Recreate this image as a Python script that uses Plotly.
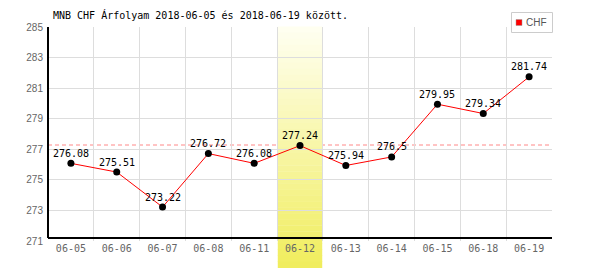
import plotly.graph_objects as go

dates = ["06-05", "06-06", "06-07", "06-08", "06-11", "06-12", "06-13", "06-14", "06-15", "06-18", "06-19"]
chf = [276.08, 275.51, 273.22, 276.72, 276.08, 277.24, 275.94, 276.5, 279.95, 279.34, 281.74]
labels = ["276.08", "275.51", "273.22", "276.72", "276.08", "277.24", "275.94", "276.5", "279.95", "279.34", "281.74"]
highlight_date = "06-12"
ref_value = 277.28
y_ticks = [271, 273, 275, 277, 279, 281, 283, 285]
title_text = "MNB CHF Árfolyam 2018-06-05 és 2018-06-19 között."
series_name = "CHF"

W, H = 600, 270
L, R, T, B = 48, 48, 27, 29
plot_h = H - T - B

fig = go.Figure()

fig.add_trace(go.Scatter(
    x=dates, y=chf, mode="lines+markers",
    line=dict(color="#ff0000", width=1),
    marker=dict(color="#000000", size=7),
    showlegend=False, cliponaxis=False,
))

shapes = []
# reference dashed line (under the highlight band)
shapes.append(dict(type="line", xref="paper", yref="y", x0=0, x1=1, y0=ref_value, y1=ref_value,
                   line=dict(color="#ff8888", width=1, dash="4px,3px"), layer="between"))

# highlight band gradient (vertical)
hi = dates.index(highlight_date)
band_top_px, band_bot_px = 27, 268
n = 40
c_top = (255, 255, 242)
c_bot = (240, 237, 92)
for i in range(n):
    y0px = band_top_px + (band_bot_px - band_top_px) * i / n
    y1px = band_top_px + (band_bot_px - band_top_px) * (i + 1) / n
    t = (i + 0.5) / n
    col = tuple(round(c_top[k] + (c_bot[k] - c_top[k]) * t) for k in range(3))
    shapes.append(dict(
        type="rect", xref="x", yref="paper",
        x0=hi - 0.5 + 0.015, x1=hi + 0.5 - 0.015,
        y0=(H - B - y1px) / plot_h, y1=(H - B - y0px) / plot_h + 0.002,
        fillcolor="rgb(%d,%d,%d)" % col, line=dict(width=0), layer="between",
    ))

# bottom black axis (drawn slightly above the 271 grid line)
shapes.append(dict(type="line", xref="paper", yref="paper", x0=0, x1=1, y0=3 / plot_h, y1=3 / plot_h,
                   line=dict(color="#000000", width=2), layer="above"))
# left black axis
shapes.append(dict(type="line", xref="paper", yref="paper", x0=0, x1=0, y0=3 / plot_h, y1=1,
                   line=dict(color="#000000", width=2), layer="above"))

def px_x(v):
    return (v - L) / (W - L - R)
def px_y(v):
    return (H - B - v) / plot_h

# legend box
lx0, lx1, ly0, ly1 = 511.5, 552.5, 12.5, 32.5
shapes.append(dict(type="rect", xref="paper", yref="paper",
                   x0=px_x(lx0), x1=px_x(lx1), y0=px_y(ly1), y1=px_y(ly0),
                   fillcolor="#ffffff", line=dict(color="#cccccc", width=1), layer="above"))
shapes.append(dict(type="rect", xref="paper", yref="paper",
                   x0=px_x(516), x1=px_x(522), y0=px_y(25.5), y1=px_y(19.5),
                   fillcolor="#ff0000", line=dict(color="#999999", width=0.5), layer="above"))

annotations = [dict(
    text=series_name, xref="paper", yref="paper", x=px_x(524), y=px_y(22.5),
    xanchor="left", yanchor="middle", showarrow=False,
    font=dict(family="Liberation Sans", size=10, color="#555555"),
)]
for d, v, lab in zip(dates, chf, labels):
    annotations.append(dict(
        text=lab, x=d, y=v, xref="x", yref="y", showarrow=False,
        xanchor="center", yanchor="middle", yshift=10,
        font=dict(family="DejaVu Sans Mono", size=10, color="#000000"),
    ))

fig.update_layout(
    width=W, height=H,
    margin=dict(l=L, r=R, t=T, b=B, pad=0),
    paper_bgcolor="#ffffff", plot_bgcolor="#ffffff",
    title=dict(text=title_text, x=53 / W, xanchor="left", xref="container",
               y=1 - 15 / H, yanchor="middle", yref="container",
               font=dict(family="DejaVu Sans Mono", size=10, color="#000000")),
    shapes=shapes, annotations=annotations,
    xaxis=dict(
        type="category", range=[-0.5, len(dates) - 0.5],
        tickson="boundaries", showgrid=True, gridcolor="#dddddd", gridwidth=1,
        ticks="", showline=False, zeroline=False,
        tickfont=dict(family="DejaVu Sans Mono", size=10, color="#666666"),
    ),
    yaxis=dict(
        range=[y_ticks[0], y_ticks[-1]], tickvals=y_ticks,
        showgrid=True, gridcolor="#dddddd", gridwidth=1,
        ticks="", showline=False, zeroline=False,
        tickfont=dict(family="Liberation Sans", size=10, color="#666666"),
        ticklabelstandoff=4,
    ),
)

fig.write_html("out.html")
